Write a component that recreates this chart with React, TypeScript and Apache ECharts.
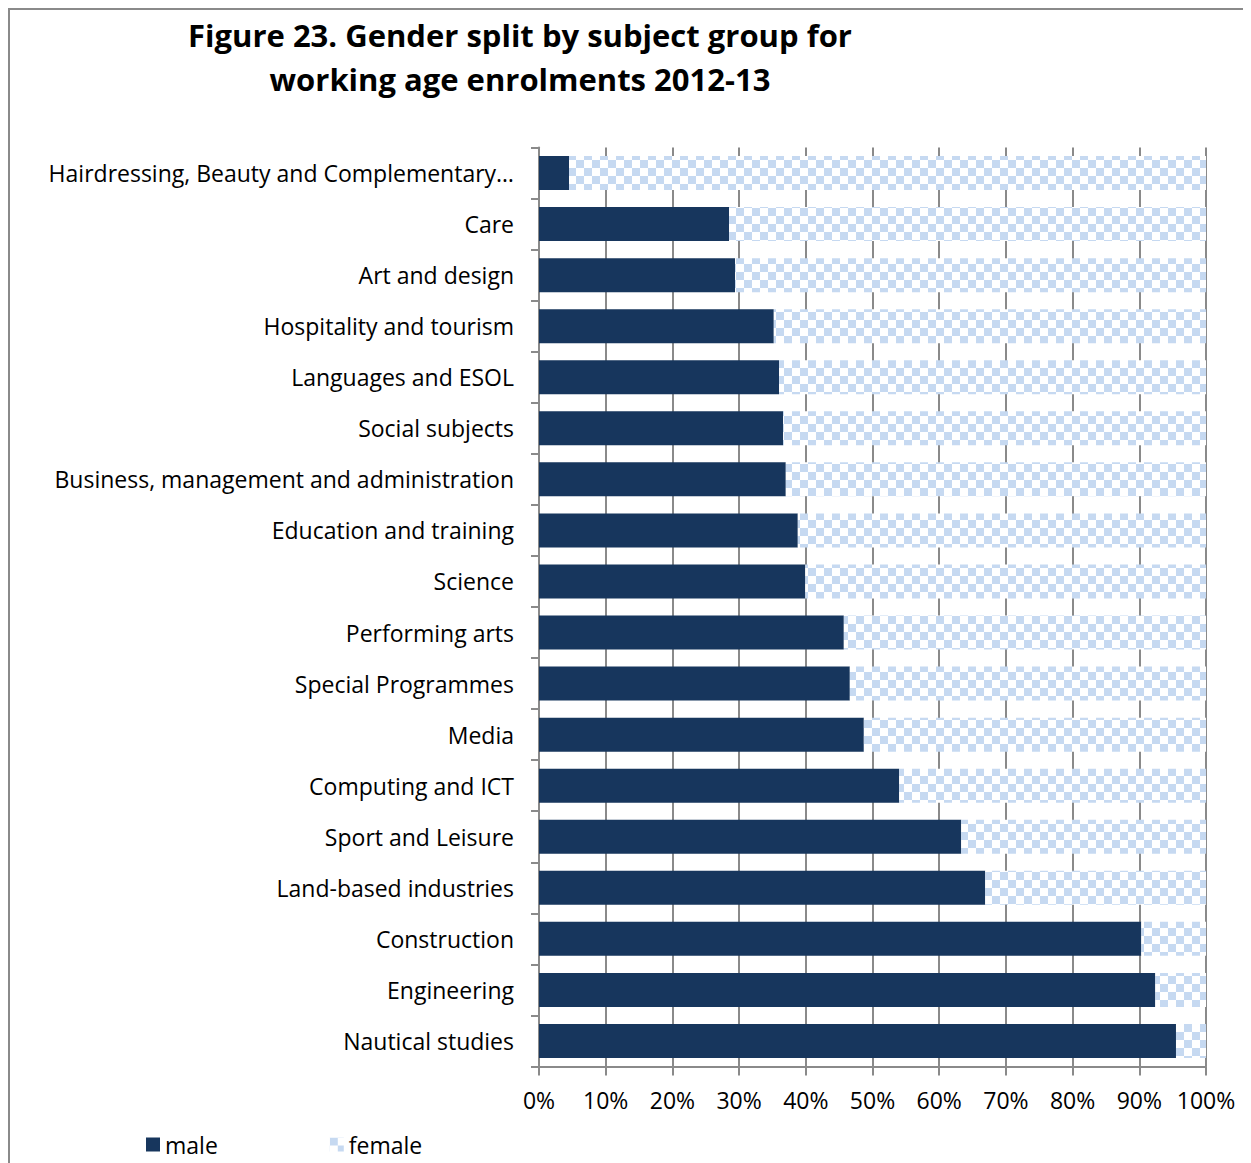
import React, { useEffect, useRef } from "react";
import * as echarts from "echarts";

const categories = [
  "Hairdressing, Beauty and Complementary…",
  "Care",
  "Art and design",
  "Hospitality and tourism",
  "Languages and ESOL",
  "Social subjects",
  "Business, management and administration",
  "Education and training",
  "Science",
  "Performing arts",
  "Special Programmes",
  "Media",
  "Computing and ICT",
  "Sport and Leisure",
  "Land-based industries",
  "Construction",
  "Engineering",
  "Nautical studies",
];

const maleValues = [
  4.5, 28.5, 29.4, 35.2, 36.0, 36.6, 37.0, 38.8, 39.9, 45.7, 46.6, 48.7, 54.0,
  63.3, 66.9, 90.3, 92.4, 95.5,
];

const femaleValues = [
  95.5, 71.5, 70.6, 64.8, 64.0, 63.4, 63.0, 61.2, 60.1, 54.3, 53.4, 51.3, 46.0,
  36.7, 33.1, 9.7, 7.6, 4.5,
];

const xTicks = [0, 10, 20, 30, 40, 50, 60, 70, 80, 90, 100];

const FONT = "'Open Sans', 'Noto Sans', sans-serif";

function makeChecker(): HTMLCanvasElement {
  const c = document.createElement("canvas");
  c.width = 16;
  c.height = 16;
  const ctx = c.getContext("2d")!;
  ctx.fillStyle = "#ffffff";
  ctx.fillRect(0, 0, 16, 16);
  ctx.fillStyle = "#c6d9f1";
  ctx.fillRect(0, 0, 8, 8);
  ctx.fillRect(8, 8, 8, 8);
  return c;
}

export default function App() {
  const ref = useRef<HTMLDivElement>(null);

  useEffect(() => {
    if (!ref.current) return;
    const chart = echarts.init(ref.current, undefined, { renderer: "svg" });
    const checker = makeChecker();
    const pattern: any = {
      image: checker,
      repeat: "repeat",
      imageWidth: 16,
      imageHeight: 16,
    };

    chart.setOption({
      animation: false,
      backgroundColor: "#ffffff",
      textStyle: { fontFamily: FONT },
      graphic: [
        {
          type: "rect",
          shape: { x: 1, y: 1, width: 1240, height: 1300 },
          style: { fill: "none", stroke: "#8a8a8a", lineWidth: 2 },
          silent: true,
        },
        {
          type: "text",
          x: 512,
          y: 5,
          style: {
            text: "Figure 23. Gender split by subject group for\nworking age enrolments 2012-13",
            fontFamily: FONT,
            fontSize: 31,
            fontWeight: "bold",
            fill: "#000000",
            align: "center",
            verticalAlign: "top",
            lineHeight: 44,
          },
        },
      ],
      legend: {
        left: 138,
        top: 1125,
        padding: 0,
        itemWidth: 14,
        itemHeight: 14,
        itemGap: 112,
        icon: "rect",
        textStyle: { fontFamily: FONT, fontSize: 23, color: "#000000" },
        data: ["male", "female"],
      },
      grid: {
        left: 531,
        right: 45,
        top: 139.5,
        bottom: 96.5,
        containLabel: false,
      },
      xAxis: {
        type: "value",
        min: 0,
        max: 100,
        interval: 10,
        axisLine: { show: true, lineStyle: { color: "#8a8a8a", width: 2 } },
        axisTick: {
          show: true,
          length: 9,
          lineStyle: { color: "#8a8a8a", width: 2 },
        },
        splitLine: { show: true, lineStyle: { color: "#8a8a8a", width: 2 } },
        axisLabel: {
          margin: 22,
          fontSize: 23,
          color: "#000000",
          fontFamily: FONT,
          formatter: (v: number) => (xTicks.includes(v) ? v + "%" : ""),
        },
      },
      yAxis: {
        type: "category",
        inverse: true,
        data: categories,
        axisLine: { show: true, lineStyle: { color: "#8a8a8a", width: 2 } },
        axisTick: {
          show: true,
          length: 8,
          lineStyle: { color: "#8a8a8a", width: 2 },
        },
        axisLabel: {
          margin: 25,
          fontSize: 23,
          color: "#000000",
          fontFamily: FONT,
        },
      },
      series: [
        {
          name: "male",
          type: "bar",
          stack: "total",
          barWidth: 34,
          data: maleValues,
          itemStyle: { color: "#17365d" },
        },
        {
          name: "female",
          type: "bar",
          stack: "total",
          barWidth: 34,
          data: femaleValues,
          itemStyle: { color: pattern },
        },
      ],
    });

    return () => chart.dispose();
  }, []);

  return <div ref={ref} style={{ width: 1243, height: 1155 }} />;
}
